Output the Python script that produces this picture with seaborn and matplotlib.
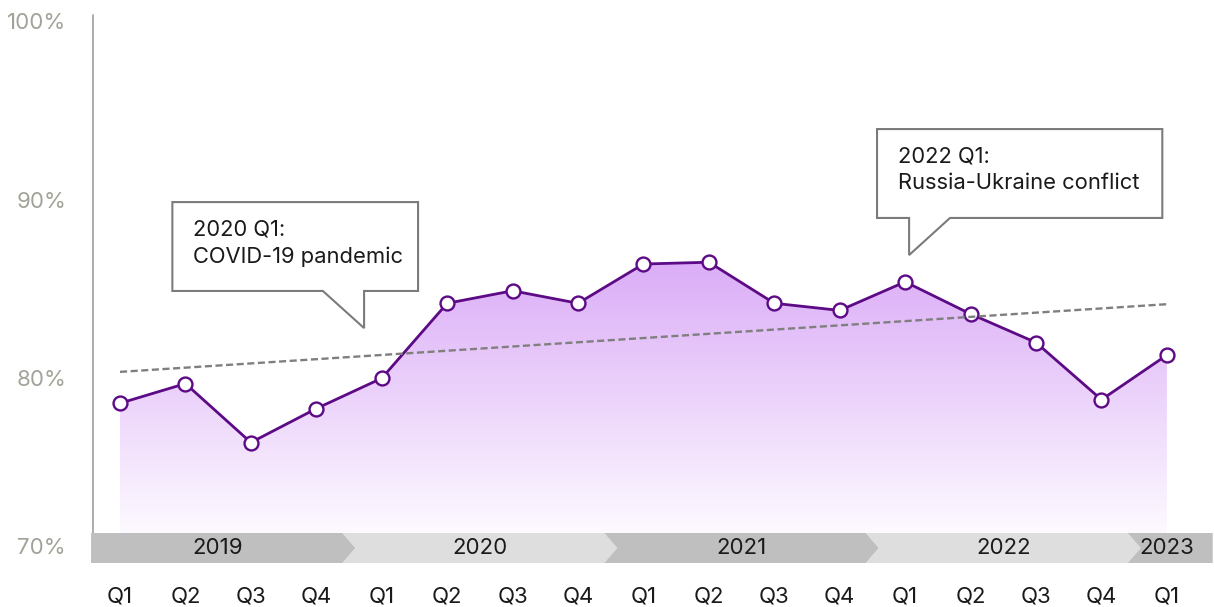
import numpy as np
import pandas as pd
import matplotlib
matplotlib.use("Agg")
import matplotlib.pyplot as plt
import seaborn as sns
from matplotlib.patches import Polygon
from matplotlib.colors import LinearSegmentedColormap
from matplotlib.transforms import blended_transform_factory

# ---- data -------------------------------------------------------------
quarters = ["Q1", "Q2", "Q3", "Q4"] * 4 + ["Q1"]
years = ["2019", "2020", "2021", "2022", "2023"]
quarters_per_year = [4, 4, 4, 4, 1]
share = [78.7, 79.8, 76.5, 78.4, 80.1, 84.3, 85.0, 84.3, 86.5,
         86.6, 84.3, 83.9, 85.5, 83.7, 82.1, 78.9, 81.4]
ytick_values = [70, 80, 90, 100]
ytick_labels = ["70%", "80%", "90%", "100%"]
event_texts = ["2020 Q1:\nCOVID-19 pandemic", "2022 Q1:\nRussia-Ukraine conflict"]

# ---- style ------------------------------------------------------------
sns.set_theme(style="white")
plt.rcParams["font.family"] = ["Inter", "DejaVu Sans"]

LINE = "#5c0a85"
TREND = "#7f7f7f"
DARK_BAND = "#bfbfbf"
LIGHT_BAND = "#dedede"
AXIS_GREY = "#a6a6a6"
LABEL_GREY = "#a3a298"
TEXT = "#1a1a1a"

XMIN, XMAX = -0.413, 16.72
YMIN, YMAX = 69.75, 100.45
BAND_TOP = 71.43
BAND_MID = (YMIN + BAND_TOP) / 2

df = pd.DataFrame({"idx": np.arange(len(share)), "share": share,
                   "quarter": quarters})

fig = plt.figure(figsize=(12.14, 6.07), dpi=100)
ax = fig.add_axes([93 / 1214, 44 / 607, 1121 / 1214, 548 / 607])

# gradient area under the line
area = ax.fill_between(df["idx"], df["share"], BAND_TOP, color="none", lw=0)
fade = LinearSegmentedColormap.from_list("fade", ["#fdfaff", "#dbadf7"])
grad = np.linspace(0, 1, 256).reshape(-1, 1)
im = ax.imshow(grad, cmap=fade, aspect="auto", origin="lower",
               extent=[df["idx"].min(), df["idx"].max(), BAND_TOP, df["share"].max()],
               zorder=1, interpolation="bilinear")
im.set_clip_path(area.get_paths()[0], transform=ax.transData)

# main series
sns.lineplot(data=df, x="idx", y="share", ax=ax, color=LINE, lw=2.0,
             marker="o", markersize=10, markerfacecolor="white",
             markeredgecolor=LINE, markeredgewidth=1.7, zorder=3)

# linear trend
sns.regplot(data=df, x="idx", y="share", ax=ax, scatter=False, ci=None,
            truncate=True, color=TREND,
            line_kws=dict(lw=1.7, ls=(0, (3.0, 1.5)), zorder=4))

ax.set_xlim(XMIN, XMAX)
ax.set_ylim(YMIN, YMAX)
ax.set_xlabel("")
ax.set_ylabel("")
for sp in ax.spines.values():
    sp.set_visible(False)

# left axis line, stopping at the year band
ax.plot([XMIN, XMIN], [BAND_TOP, YMAX], color=AXIS_GREY, lw=1.3,
        clip_on=False, zorder=2)

# quarter tick labels
ax.set_xticks(df["idx"])
ax.set_xticklabels(quarters, fontsize=16, color=TEXT)
ax.tick_params(axis="x", length=0, pad=17)

# percentage labels (lowest one sits in the band)
ax.set_yticks([])
ytrans = blended_transform_factory(ax.transAxes, ax.transData)
for v, lab in zip(ytick_values, ytick_labels):
    ypos = BAND_MID if v < BAND_TOP else v
    ax.text(-0.024, ypos, lab, transform=ytrans, ha="right", va="center",
            fontsize=16, color=LABEL_GREY, clip_on=False)

# year band made of chevrons
D = 0.1
starts = np.cumsum([0] + quarters_per_year[:-1])
for k, (yr, n) in enumerate(zip(years, quarters_per_year)):
    s = starts[k] - 0.5
    e = s + n
    if k == 0:
        pts = [(XMIN - 0.03, YMIN), (e - D, YMIN), (e + D, BAND_MID),
               (e - D, BAND_TOP), (XMIN - 0.03, BAND_TOP)]
    elif k == len(years) - 1:
        pts = [(s - D, YMIN), (XMAX - 0.02, YMIN), (XMAX - 0.02, BAND_TOP),
               (s - D, BAND_TOP), (s + D, BAND_MID)]
    else:
        pts = [(s - D, YMIN), (e - D, YMIN), (e + D, BAND_MID),
               (e - D, BAND_TOP), (s - D, BAND_TOP), (s + D, BAND_MID)]
    color = DARK_BAND if k % 2 == 0 else LIGHT_BAND
    ax.add_patch(Polygon(pts, closed=True, facecolor=color, edgecolor="none",
                         zorder=2, clip_on=False))
    ax.text(starts[k] + (n - 1) / 2, BAND_MID, yr, ha="center",
            va="center", fontsize=16, color=TEXT, zorder=3)

# callouts: box (left, right, top, bottom), tail base (a, b) and tip
callouts = [
    dict(text=event_texts[0], box=(0.80, 4.555, 89.97, 84.99),
         base=(3.10, 3.73), tip=(3.73, 82.91)),
    dict(text=event_texts[1], box=(11.57, 15.93, 94.06, 89.08),
         base=(12.06, 12.685), tip=(12.06, 87.0)),
]
for c in callouts:
    L, R, T, B = c["box"]
    a, b = c["base"]
    pts = [(L, T), (R, T), (R, B), (b, B), c["tip"], (a, B), (L, B)]
    ax.add_patch(Polygon(pts, closed=True, facecolor="white",
                         edgecolor="#7b7b7b", lw=1.5, zorder=5,
                         joinstyle="miter"))
    ax.text(L + 0.32, T - 1.0, c["text"], ha="left", va="top",
            fontsize=15.8, color=TEXT, linespacing=1.38, zorder=6)

fig.savefig("out.png", dpi=100)
